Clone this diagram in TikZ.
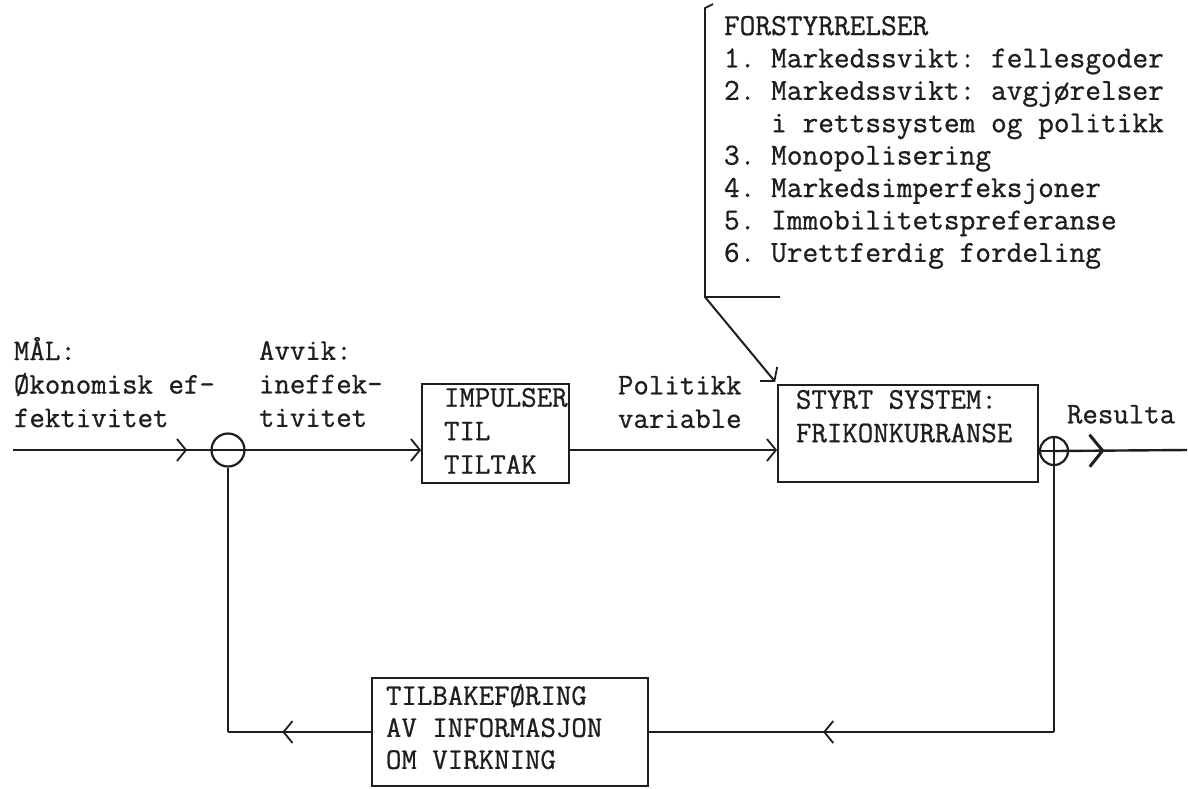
\documentclass[tikz,border=0pt]{standalone}
\usepackage{fontspec}
\setmonofont{Latin Modern Mono}[FakeBold=0.8]
\usetikzlibrary{arrows.meta, calc, decorations.markings}
\definecolor{blekk}{HTML}{1E1E1E}
\tikzset{
  every picture/.style={font=\ttfamily\fontsize{30}{33.5}\selectfont, line width=2pt, color=blekk},
  blokk/.style={draw=blekk, line width=1.8pt, inner sep=0pt},
  tekst/.style={align=left, anchor=north west, inner sep=0pt},
  sum/.style={circle, draw=blekk, line width=2.2pt, minimum size=#1, inner sep=0pt},
  pil/.style={-{Straight Barb[length=9pt, width=22pt, line width=1.8pt]}},
  midtpil/.style={postaction={decorate}, decoration={markings,
    mark=at position #1 with {\arrow{Straight Barb[length=9pt, width=22pt, line width=1.8pt]}}}},
  tykkpil/.style={postaction={decorate}, decoration={markings,
    mark=at position #1 with {\arrow{Straight Barb[length=13pt, width=32pt, line width=3pt]}}}},
}

\begin{document}
\begin{tikzpicture}[x=1pt, y=-1pt]
  \useasboundingbox (0,0) rectangle (1188,788);
  \coordinate (inn) at (13,450);
  \coordinate (ut) at (1187,450);
  \node[sum=33pt] (sum1) at (228,450) {};
  \node[sum=28pt] (sum2) at (1054,451) {};
  \node[blokk, minimum width=147pt, minimum height=99pt] (impuls) at (495.5,433.5) {};
  \node[blokk, minimum width=260pt, minimum height=97pt] (styrt) at (908,433.5) {};
  \node[blokk, minimum width=276pt, minimum height=108pt] (tilbake) at (510,732) {};
  % tekster
  \node[tekst] (maltxt) at (13,336) {MÅL:\\Økonomisk ef-\\fektivitet};
  \node[tekst] (avvik) at (258,340) {Avvik:\\ineffek-\\tivitet};
  \node[tekst] (impulstxt) at (443,387) {IMPULSER\\TIL\\TILTAK};
  \node[tekst] (politikk) at (617,375) {Politikk\\variable};
  \node[tekst] (styrttxt) at (795,389) {STYRT SYSTEM:\\FRIKONKURRANSE};
  \node[tekst] (resultat) at (1066,404) {Resulta};
  \node[tekst, font=\ttfamily\fontsize{30}{32}\selectfont] (tilbaketxt) at (385,683) {TILBAKEFØRING\\AV INFORMASJON\\OM VIRKNING};
  \node[tekst, font=\ttfamily\fontsize{30.5}{32.4}\selectfont] (forst) at (723,15)
    {FORSTYRRELSER\\1. Markedssvikt: fellesgoder\\2. Markedssvikt: avgjørelser\\\phantom{2. }i rettssystem og politikk\\3. Monopolisering\\4. Markedsimperfeksjoner\\5. Immobilitetspreferanse\\6. Urettferdig fordeling};
  % hovedsløyfe
  \draw[midtpil=0.81] (inn) -- (sum1.center);
  \draw[pil] (sum1.center) -- (impuls.west |- sum1);
  \draw[pil] (impuls.east |- sum1) -- (styrt.west |- sum1);
  \draw (styrt.east |- sum2) -- (sum2.center);
  \draw[tykkpil=0.38, line width=2.4pt] (sum2.center) -- (ut);
  % tilbakeføring
  \coordinate (hjorne2) at (sum2 |- tilbake);
  \coordinate (hjorne1) at (sum1 |- tilbake);
  \draw[line width=1.6pt] (sum2.north) -- (hjorne2);
  \draw[midtpil=0.57] (hjorne2) -- (tilbake.east);
  \draw[midtpil=0.62] (tilbake.west) -- (hjorne1);
  \draw[line width=1.6pt] (hjorne1) -- (sum1.south);
  % forstyrrelser
  \coordinate (brakett) at (705,297);
  \draw[line width=1.8pt] (713,4) -- (705,8) -- (brakett) -- (780,297);
  \draw[pil, shorten >=3pt] (brakett) -- (styrt.north west);
\end{tikzpicture}
\end{document}
